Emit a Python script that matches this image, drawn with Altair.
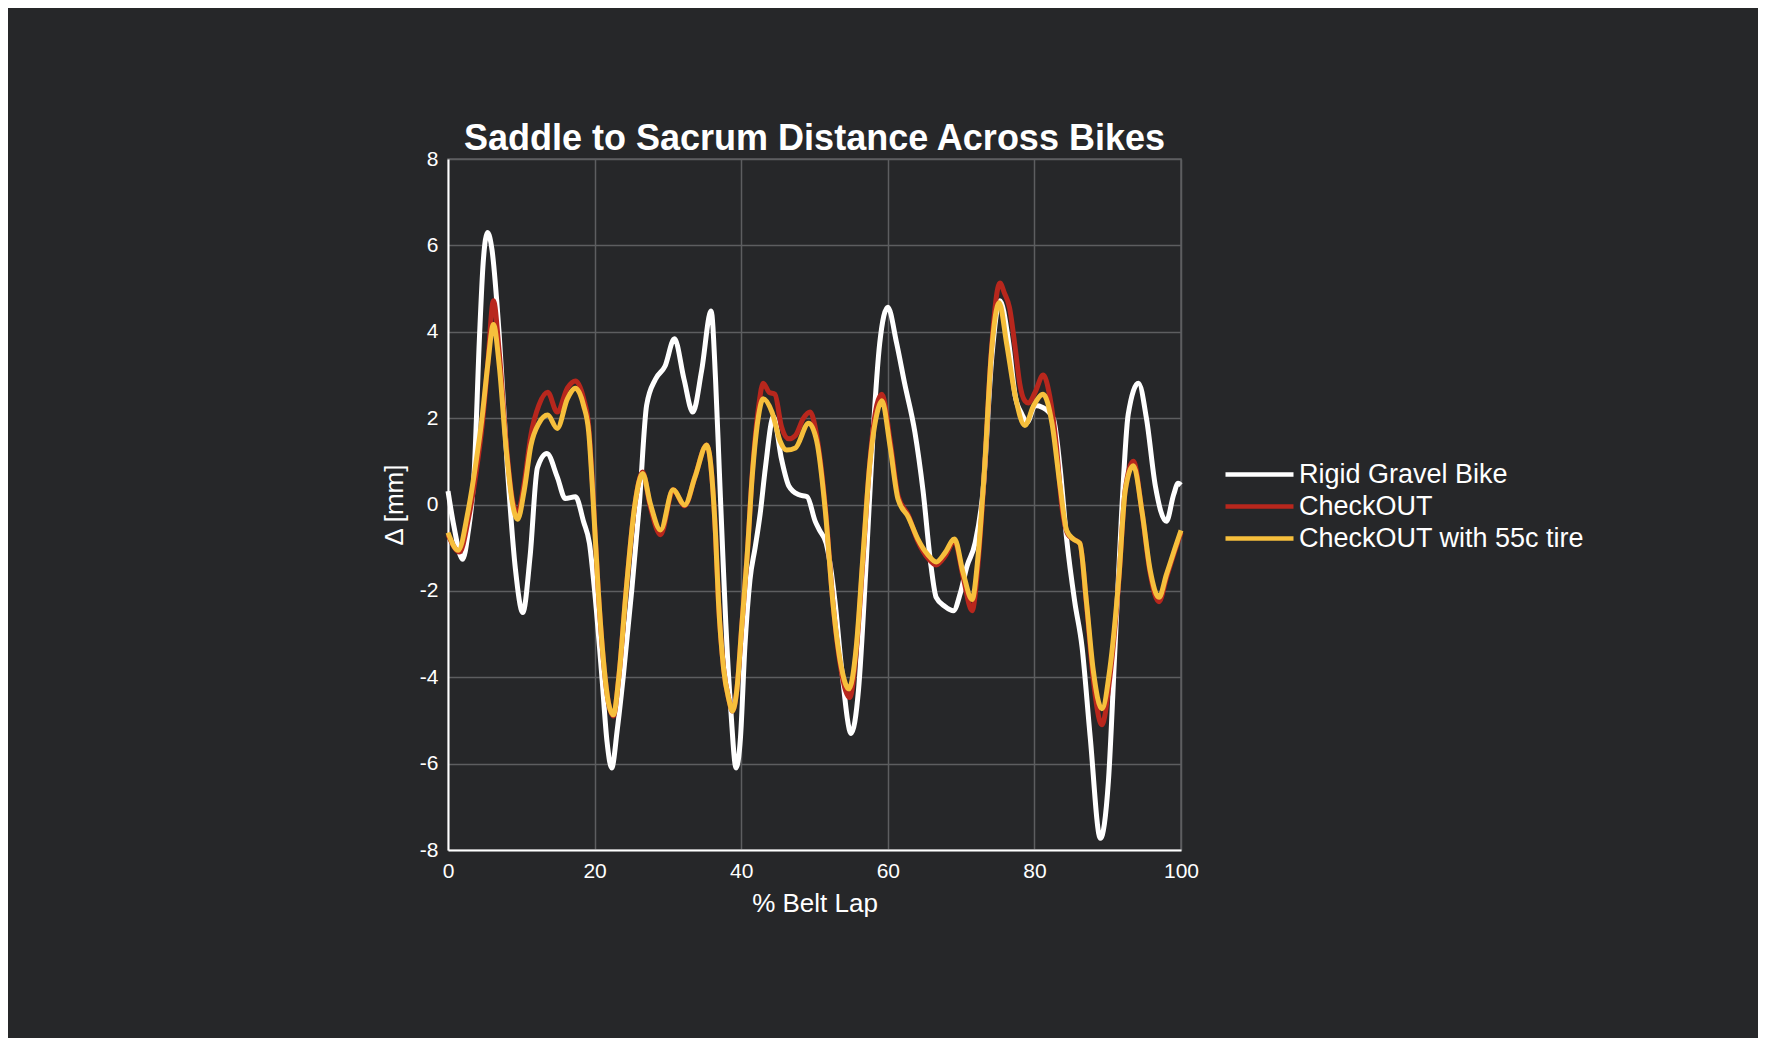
import altair as alt
import pandas as pd

series_names = ["Rigid Gravel Bike", "CheckOUT", "CheckOUT with 55c tire"]
series_colors = ["#ffffff", "#b8271d", "#f6bf3c"]

rigid_x = [0, 0.8, 2.0, 2.7, 3.6, 4.3, 4.8, 5.4, 6.0, 7.0, 8.1, 9.2, 10.2, 11.2, 12.2, 13.5,
           14.9, 16.0, 17.4, 18.5, 19.3, 20.0, 21.0, 21.7, 22.33, 23.1, 23.9, 25.06, 26.1,
           27.1, 28.3, 29.6, 30.9, 32.2, 33.4, 34.6, 35.9, 36.5, 37.0, 37.5, 37.9, 38.6,
           39.3, 39.9, 40.5, 41.2, 41.9, 42.6, 43.3, 44.4, 45.5, 46.5, 47.8, 49.0, 50.1,
           50.7, 51.6, 52.8, 53.7, 55.0, 56.0, 57.1, 58.0, 58.9, 60.0, 61.2, 62.3, 63.7,
           64.8, 65.9, 66.6, 67.8, 68.95, 69.9, 70.8, 71.9, 73.0, 74.2, 75.3, 76.5, 77.4,
           78.3, 79.0, 80.1, 81.2, 82.6, 83.5, 84.4, 85.5, 86.5, 87.6, 89.0, 90.1, 91.0,
           91.9, 92.8, 94.2, 95.3, 96.5, 98.0, 99.0, 99.6, 100]
rigid_y = [0.31, -0.5, -1.27, -0.7, 0.85, 3.9, 5.6, 6.3, 5.9, 3.9, 0.85, -1.5, -2.5, -1.2, 0.85,
           1.18, 0.64, 0.14, 0.18, -0.4, -0.9, -2.0, -4.0, -5.5, -6.1, -5.2, -4.0, -2.0, 0.0,
           2.3, 2.9, 3.2, 3.84, 2.9, 2.14, 3.1, 4.48, 2.9, 0.85, -1.2, -2.75, -4.8,
           -6.1, -5.4, -3.3, -1.74, -1.0, -0.2, 0.85, 2.03, 1.05, 0.43, 0.23, 0.18, -0.39,
           -0.6, -0.9, -2.25, -3.8, -5.3, -4.3, -1.2, 1.67, 3.74, 4.57, 3.74, 2.8, 1.67,
           0.33, -1.43, -2.15, -2.36, -2.46, -2.05, -1.43, -0.9, 0.33, 3.43, 4.72, 3.74, 2.5,
           2.09, 1.9, 2.29, 2.24, 1.98, 0.85, -0.8, -2.25, -3.3, -5.36, -7.73, -6.4, -3.3,
           -0.19, 2.09, 2.81, 1.98, 0.43, -0.39, 0.23, 0.49, 0.45]

checkout_x = [0, 1.6, 2.7, 3.8, 4.7, 5.4, 6.2, 7.0, 7.9, 8.8, 9.5, 10.4, 11.3, 12.4, 13.6, 14.9,
              16.3, 17.4, 18.5, 19.2, 19.8, 20.5, 21.2, 21.9, 22.56, 23.3, 24.3, 25.5,
              26.55, 27.6, 29.0, 30.7, 32.3, 33.7, 35.3, 36.0, 36.5, 36.9, 37.6, 38.3,
              38.8, 39.4, 40.1, 40.8, 41.5, 42.4, 43.0, 43.8, 44.6, 45.5, 46.5, 47.4, 48.5,
              49.4, 50.3, 51.5, 52.5, 53.7, 54.8, 55.7, 56.6, 57.5, 58.5, 59.2, 60.3, 61.4,
              62.8, 64.1, 65.5, 66.6, 67.8, 69.1, 70.3, 71.5, 72.3, 73.2, 74.1, 75.3, 75.9,
              76.6, 77.4, 78.0, 78.7, 79.2, 80.1, 81.2, 82.1, 83.0, 83.7, 84.6, 85.3, 86.2,
              87.1, 88.0, 89.2, 90.3, 91.5, 92.4, 93.5, 94.7, 95.8, 97.0, 98.0, 99.2, 100]
checkout_y = [-0.7, -1.1, -0.4, 0.7, 1.9, 3.2, 4.72, 3.5, 1.5, 0.1, -0.2, 0.5, 1.6, 2.3, 2.6,
              2.14, 2.7, 2.86, 2.45, 1.8, 0.2, -2.0, -3.6, -4.6, -4.9, -4.0, -2.0, 0.0,
              0.75, -0.05, -0.7, 0.34, -0.03, 0.64, 1.38, 0.64, -0.7, -2.25, -3.8, -4.5,
              -4.78, -4.3, -2.77, -1.22, 0.7, 2.3, 2.81, 2.6, 2.55, 1.8, 1.52, 1.6, 2.0,
              2.14, 1.6, -0.1, -2.25, -3.9, -4.47, -3.4, -1.3, 0.9, 2.3, 2.55, 1.5, 0.2,
              -0.25, -0.85, -1.25, -1.4, -1.2, -0.85, -1.7, -2.46, -1.4, 0.8, 3.5, 5.13, 4.9,
              4.56, 3.6, 2.8, 2.4, 2.35, 2.6, 3.0, 2.5, 1.36, 0.02, -0.7, -0.8, -0.9,
              -2.3, -4.0, -5.1, -4.0, -1.8, 0.35, 1.0, -0.2, -1.6, -2.25, -1.7, -1.05, -0.65]

tire_x = [0, 1.4, 2.7, 3.8, 4.7, 5.4, 6.2, 7.0, 7.9, 8.8, 9.5, 10.4, 11.3, 12.4, 13.6, 14.9,
          16.3, 17.4, 18.5, 19.2, 19.8, 20.5, 21.2, 21.9, 22.56, 23.3, 24.3, 25.5, 26.55,
          27.6, 29.0, 30.7, 32.3, 33.7, 35.3, 36.0, 36.5, 36.9, 37.6, 38.3, 38.8, 39.4,
          40.1, 40.8, 41.5, 42.4, 43.0, 44.2, 45.3, 46.2, 47.4, 49.2, 50.3, 51.5, 52.5, 53.7,
          54.7, 55.7, 56.6, 57.5, 58.5, 59.2, 60.3, 61.4, 62.8, 64.1, 65.5, 66.6, 67.8, 69.1,
          70.3, 71.5, 72.3, 73.2, 74.1, 75.2, 76.2, 77.4, 78.7, 79.9, 81.2, 82.4, 83.5, 84.4,
          85.3, 86.2, 87.1, 88.0, 89.2, 90.3, 91.5, 92.4, 93.5, 94.7, 95.8, 97.0, 98.0, 99.2,
          100]
tire_y = [-0.65, -1.06, -0.19, 0.95, 2.09, 3.2, 4.17, 3.2, 1.36, 0.02, -0.34, 0.33, 1.36, 1.88,
          2.07, 1.76, 2.45, 2.69, 2.29, 1.67, 0.1, -2.0, -3.6, -4.6, -4.87, -4.0, -2.0, 0.0,
          0.72, 0.02, -0.59, 0.34, -0.01, 0.64, 1.38, 0.64, -0.7, -2.25, -3.8, -4.5, -4.78,
          -4.3, -2.77, -1.22, 0.64, 2.09, 2.45, 2.14, 1.47, 1.26, 1.31, 1.88, 1.47, -0.19,
          -2.25, -3.8, -4.27, -3.3, -1.22, 0.85, 2.09, 2.4, 1.36, 0.12, -0.29, -0.8, -1.17,
          -1.33, -1.12, -0.8, -1.6, -2.2, -1.22, 0.85, 3.43, 4.67, 3.74, 2.5, 1.83, 2.29,
          2.55, 1.88, 0.43, -0.6, -0.8, -0.9, -2.25, -3.8, -4.73, -3.8, -1.74, 0.33, 0.9,
          -0.19, -1.53, -2.15, -1.63, -1.0, -0.6]

x_ticks = [0, 20, 40, 60, 80, 100]
y_ticks = [-8, -6, -4, -2, 0, 2, 4, 6, 8]

frames = []
for name, xs, ys in zip(series_names, [rigid_x, checkout_x, tire_x], [rigid_y, checkout_y, tire_y]):
    frames.append(pd.DataFrame({"pct": xs, "delta": ys, "bike": name}))
df = pd.concat(frames, ignore_index=True)

BG = "#262729"
GRID = "#5d5e60"
FONT = "Liberation Sans"

color = alt.Color(
    "bike:N",
    scale=alt.Scale(domain=series_names, range=series_colors),
    legend=alt.Legend(
        title=None, orient="none", legendX=798, legendY=302,
        symbolType="M-5,0H5", symbolSize=185, symbolStrokeWidth=4.5,
        labelFontSize=27, labelColor="white", labelFont=FONT, labelOffset=26,
        rowPadding=4, padding=0, labelLimit=400,
    ),
)

x = alt.X("pct:Q", scale=alt.Scale(domain=[0, 100], nice=False),
          axis=alt.Axis(values=x_ticks, title="% Belt Lap", labelExpr="'' + datum.value"))
y = alt.Y("delta:Q", scale=alt.Scale(domain=[-8, 8], nice=False),
          axis=alt.Axis(values=y_ticks, title="Δ [mm]", labelExpr="'' + datum.value"))

layers = []
for name in series_names:
    layers.append(
        alt.Chart(df)
        .transform_filter(alt.datum.bike == name)
        .mark_line(strokeWidth=5, interpolate="monotone")
        .encode(x=x, y=y, color=color)
    )

chart = (
    alt.layer(*layers)
    .properties(
        width=733, height=691,
        title=alt.TitleParams("Saddle to Sacrum Distance Across Bikes", fontSize=36,
                              fontWeight="bold", color="white", font=FONT,
                              anchor="middle", offset=10, dy=20),
        autosize="none",
        padding={"left": 440, "top": 151, "right": 577, "bottom": 188},
        background=BG,
    )
    .configure_view(stroke=GRID, strokeWidth=1.5, fill=BG)
    .configure_axis(
        domainColor="white", domainWidth=2, gridColor=GRID, gridWidth=1.5,
        tickSize=0, labelColor="white", labelFontSize=21, labelFont=FONT,
        titleColor="white", titleFontSize=26, titleFont=FONT, titleFontWeight="normal",
        labelPadding=10, labelFlush=False,
    )
    .configure_axisX(titlePadding=9)
    .configure_axisY(titlePadding=12)
)

chart.save("out.html", embed_options={"renderer": "svg", "actions": False})
